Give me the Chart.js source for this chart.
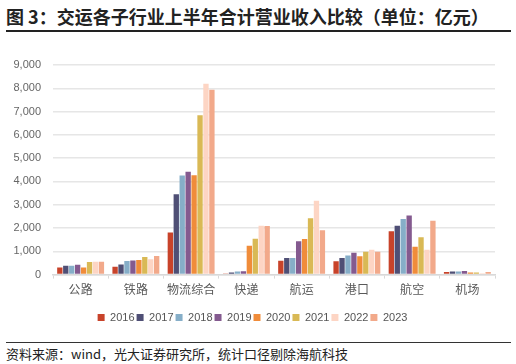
<!DOCTYPE html>
<html>
<head>
<meta charset="utf-8">
<script src="https://cdn.jsdelivr.net/npm/chart.js@4"></script>
<style>
  body { margin: 0; background: #fff; width: 516px; height: 364px; position: relative; overflow: hidden; }
  #title { position: absolute; left: 6px; top: 3px; font: bold 18px "Noto Sans CJK SC", sans-serif; color: #222; white-space: nowrap; }
  #topline { position: absolute; left: 6px; top: 30px; width: 505px; height: 2px; background: #222; }
  #wrap { position: absolute; left: 0; top: 38px; width: 516px; height: 300px; }
  #botline { position: absolute; left: 6px; top: 342px; width: 505px; height: 1px; background: #333; }
  #source { position: absolute; left: 6px; top: 344px; font: 13px "Noto Sans CJK SC", sans-serif; color: #222; white-space: nowrap; }
</style>
</head>
<body>
<div id="title">图 3：交运各子行业上半年合计营业收入比较（单位：亿元）</div>
<div id="topline"></div>
<div id="wrap"><canvas id="myChart"></canvas></div>
<div id="botline"></div>
<div id="source">资料来源：wind，光大证券研究所，统计口径剔除海航科技</div>
<script>
var ctx = document.getElementById('myChart').getContext('2d');

// 子行业
const categories = ['公路', '铁路', '物流综合', '快递', '航运', '港口', '航空', '机场'];
const years = ['2016', '2017', '2018', '2019', '2020', '2021', '2022', '2023'];
const colors = ['#c8432a', '#4f4f75', '#86aec8', '#845a8f', '#f08c3a', '#d9b955', '#fdd5c4', '#f2a98a'];

// 上半年营业收入（亿元），每个数组对应一个子行业，按年份排列
const gonglu  = [310, 380, 375, 425, 300, 540, 555, 550];
const tielu   = [340, 430, 585, 610, 630, 755, 655, 800];
const wuliu   = [1810, 3450, 4260, 4415, 4270, 6840, 8190, 7935];
const kuaidi  = [30, 90, 130, 145, 1240, 1540, 2100, 2085];
const hangyun = [600, 715, 715, 1430, 1530, 2415, 3170, 1900];
const gangkou = [570, 715, 815, 940, 785, 985, 1070, 985];
const hangkong = [1860, 2100, 2385, 2540, 1200, 1600, 1070, 2315];
const jichang = [115, 130, 130, 155, 85, 85, 55, 115];

const yTicks = [0, 1000, 2000, 3000, 4000, 5000, 6000, 7000, 8000, 9000];

const byCategory = [gonglu, tielu, wuliu, kuaidi, hangyun, gangkou, hangkong, jichang];

var datasets = years.map(function (y, i) {
  return {
    label: y,
    data: byCategory.map(function (row) { return row[i]; }),
    backgroundColor: colors[i],
    borderWidth: 0,
    barPercentage: 0.9,
    categoryPercentage: 0.86
  };
});

var myChart = new Chart(ctx, {
  type: 'bar',
  data: { labels: categories, datasets: datasets },
  options: {
    responsive: true,
    maintainAspectRatio: false,
    animation: false,
    layout: { padding: { left: 10, right: 21, top: 27, bottom: 5 } },
    plugins: {
      tooltip: { enabled: false },
      legend: {
        position: 'bottom',
        labels: {
          boxWidth: 7,
          boxHeight: 7,
          padding: 2,
          color: '#555',
          font: { family: 'Liberation Sans', size: 11 }
        }
      }
    },
    scales: {
      x: {
        afterFit: function (scale) { scale.height += 9; },
        grid: { drawOnChartArea: false, color: '#d9d9d9', tickLength: 4 },
        border: { color: '#d9d9d9', width: 1.5 },
        ticks: { color: '#595959', font: { family: 'Noto Sans CJK SC', size: 12 }, padding: 4 }
      },
      y: {
        min: 0,
        max: 9000,
        afterBuildTicks: function (scale) {
          scale.ticks = yTicks.map(function (v) { return { value: v }; });
        },
        afterFit: function (scale) { scale.width = 43; },
        grid: { color: '#e6e6e6', lineWidth: 1.5, drawTicks: false },
        border: { display: false },
        ticks: {
          color: '#666',
          padding: 12,
          font: { family: 'Liberation Sans', size: 11 },
          callback: function (v) { return v.toLocaleString('en-US'); }
        }
      }
    }
  }
});
</script>
</body>
</html>
